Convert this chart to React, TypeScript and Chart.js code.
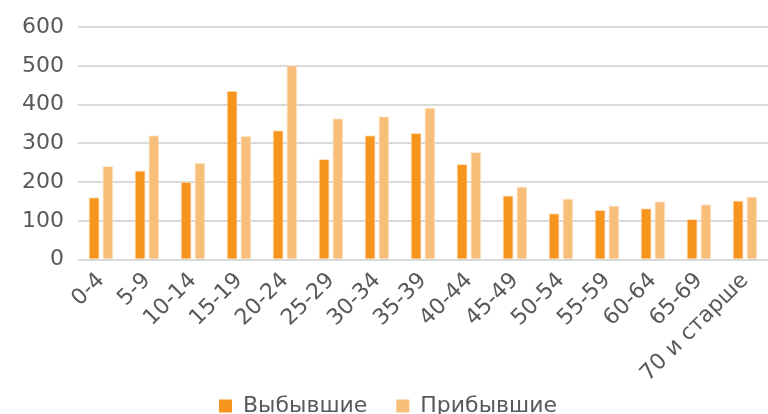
import React, { useEffect, useRef } from "react";
import { Chart, registerables } from "chart.js";

Chart.register(...registerables);

const categories = ["0-4", "5-9", "10-14", "15-19", "20-24", "25-29", "30-34", "35-39", "40-44", "45-49", "50-54", "55-59", "60-64", "65-69", "70 и старше"];
const departed = [161, 230, 201, 436, 334, 260, 321, 327, 247, 166, 120, 128, 133, 105, 153];
const arrived = [242, 321, 250, 320, 502, 365, 370, 393, 278, 189, 158, 140, 151, 143, 163];
const seriesNames = ["Выбывшие", "Прибывшие"];
const yMin = 0;
const yMax = 600;
const yStep = 100;

export default function App() {
  const ref = useRef<HTMLCanvasElement>(null);
  useEffect(() => {
    if (!ref.current) return;
    const font = "'DejaVu Sans', sans-serif";
    const chart = new Chart(ref.current, {
      type: "bar",
      data: {
        labels: categories,
        datasets: [
          { label: seriesNames[0], data: departed, backgroundColor: "#F7941D", borderColor: "#FCE2C2", borderWidth: 1, categoryPercentage: 0.6, barPercentage: 0.8 },
          { label: seriesNames[1], data: arrived, backgroundColor: "#F8BF7A", borderColor: "#FDEBD6", borderWidth: 1, categoryPercentage: 0.6, barPercentage: 0.8 },
        ],
      },
      options: {
        animation: false,
        responsive: false,
        maintainAspectRatio: false,
        layout: { padding: { top: 11, right: 0, left: 8, bottom: -13 } },
        plugins: {
          legend: {
            position: "bottom",
            labels: {
              font: { family: font, size: 22 },
              color: "#595959",
              boxWidth: 13,
              boxHeight: 13,
              padding: 8,
              generateLabels: (c: any) => {
                const items = Chart.defaults.plugins.legend.labels.generateLabels(c);
                return items.map((it: any, i: number) => ({ ...it, lineWidth: 0, text: i === 0 ? it.text + "   " : it.text }));
              },
            },
          },
          tooltip: { enabled: false },
        },
        scales: {
          x: {
            grid: { display: false },
            border: { display: false },
            ticks: { font: { family: font, size: 22 }, color: "#595959", maxRotation: 45, minRotation: 45, autoSkip: false, padding: 0 },
          },
          y: {
            min: yMin,
            max: yMax,
            ticks: { stepSize: yStep, font: { family: font, size: 22 }, color: "#595959", padding: 14 },
            grid: { color: "#D9D9D9", lineWidth: 2, drawTicks: false },
            border: { display: false },
          },
        },
      },
    });
    return () => chart.destroy();
  }, []);
  return (
    <div style={{ position: "fixed", left: 0, top: 0, width: 768, height: 414, background: "#fff" }}>
      <canvas ref={ref} width={768} height={414} />
    </div>
  );
}
